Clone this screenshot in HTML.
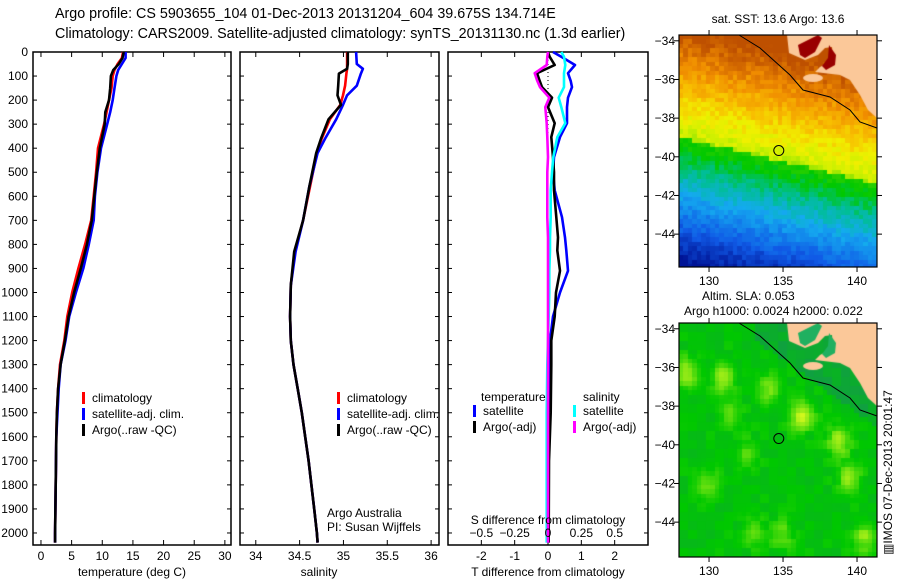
<!DOCTYPE html>
<html><head><meta charset="utf-8"><style>
body{margin:0;background:#fff;width:900px;height:580px;overflow:hidden;position:relative;font-family:"Liberation Sans",sans-serif}
svg{position:absolute;left:0;top:0}
canvas{position:absolute}
text{font-family:"Liberation Sans",sans-serif;font-size:12px;fill:#000}
text.title{font-size:14.3px}
</style></head><body>
<canvas id="sst" width="198" height="232" style="left:679px;top:35px"></canvas>
<canvas id="sla" width="198" height="234" style="left:679px;top:323px"></canvas>
<svg id="s" width="900" height="580"></svg>
<script>
// ---- data ----
const depthT=[0,25,50,75,100,150,200,250,300,400,500,600,700,800,900,1000,1100,1200,1300,1400,1500,1600,1800,2000,2040];
const tempClim=[13.4,13.2,12.5,12.0,11.7,11.5,11.1,10.7,10.3,9.3,9.0,8.6,8.2,7.2,6.1,5.1,4.3,3.8,3.1,2.8,2.6,2.5,2.4,2.3,2.3];
const tempSat=[13.8,13.8,13.2,12.6,12.3,12.0,11.7,11.3,10.8,9.8,9.2,8.8,8.6,7.8,6.9,5.7,4.6,4.0,3.2,2.9,2.7,2.5,2.4,2.3,2.3];
const tempArgo=[13.5,13.3,12.7,11.8,11.4,11.3,11.1,10.5,10.4,9.6,9.1,8.7,8.3,7.5,6.5,5.4,4.5,3.9,3.2,2.8,2.6,2.5,2.4,2.3,2.3];
const depthS=[0,50,70,90,140,180,220,280,360,420,560,700,830,970,1100,1200,1300,1400,1500,1600,1700,1800,1900,2000,2040];
const salClim=[35.042,35.042,35.042,35.034,35.019,34.995,34.964,34.846,34.752,34.697,34.619,34.540,34.446,34.399,34.391,34.399,34.430,34.478,34.525,34.564,34.603,34.634,34.666,34.697,34.705];
const salSat=[35.144,35.152,35.222,35.199,35.152,35.042,34.995,34.917,34.791,34.705,34.611,34.540,34.454,34.399,34.391,34.399,34.430,34.478,34.525,34.564,34.603,34.634,34.666,34.697,34.705];
const salArgo=[35.050,35.050,35.042,34.948,34.940,34.932,34.972,34.830,34.744,34.689,34.611,34.540,34.438,34.399,34.391,34.399,34.430,34.478,34.525,34.564,34.603,34.634,34.666,34.697,34.705];
const depthD=[0,20,54,88,120,146,190,229,296,354,437,500,575,687,771,825,910,1000,1100,1200,1300,1500,1700,2000,2040];
const dTSat=[0.15,0.4,0.81,0.6,0.68,0.72,0.6,0.57,0.57,0.36,0.18,0.15,0.2,0.42,0.51,0.55,0.6,0.36,0.15,0.06,0.03,0.02,0.01,0,0];
const dTArgo=[0,0.05,0.2,-0.33,-0.25,-0.18,0.12,0,0.2,0.1,0.15,0.18,0.18,0.25,0.3,0.28,0.36,0.24,0.2,0.1,0.1,0.08,0.03,0.02,0.02];
const dSSat=[0.1,0.12,0.13,0.12,0.12,0.12,0.08,0.1,0.13,0.07,0.04,0.03,0.02,0.02,0.015,0.015,0.01,0.01,0.005,0,-0.005,-0.01,-0.01,-0.01,-0.01];
const dSArgo=[0,-0.005,-0.01,-0.1,-0.08,-0.06,0.01,-0.02,-0.01,-0.005,0,-0.005,-0.005,-0.005,0,0,0,0,0,0,0,0,0,0,0];
const depthTicks=[0,100,200,300,400,500,600,700,800,900,1000,1100,1200,1300,1400,1500,1600,1700,1800,1900,2000];
const tempTicks=[0,5,10,15,20,25,30];
const salTicks=[34,34.5,35,35.5,36];
const dTTicks=[-2,-1,0,1,2];
const dSTicks=["-0.5","-0.25","0","0.25","0.5"];
const lonTicks=[130,135,140];
const latTicks=[-34,-36,-38,-40,-42,-44];

const NS="http://www.w3.org/2000/svg";
const svg=document.getElementById('s');
function el(tag,attrs,parent){const e=document.createElementNS(NS,tag);for(const k in attrs)e.setAttribute(k,attrs[k]);(parent||svg).appendChild(e);return e;}
function txt(x,y,s,anchor,extra){const e=el('text',Object.assign({x:x,y:y,'text-anchor':anchor||'start'},extra||{}));e.textContent=s;return e;}
const PT=52,PB=545;
const yD=d=>PT+(d/2050)*(PB-PT);
function lin(d0,d1,r0,r1){return v=>r0+(v-d0)/(d1-d0)*(r1-r0);}
const xT=lin(-1.3,31.0,33,231);
const xS=lin(33.82,36.09,240,439);
const xDT=lin(-3,3,448,648);
const xDS=lin(-0.75,0.75,448,648);

// titles
let t=txt(55,18,"Argo profile: CS 5903655_104 01-Dec-2013 20131204_604 39.675S 134.714E","start",{'class':'title'});

t=txt(55,38,"Climatology: CARS2009. Satellite-adjusted climatology: synTS_20131130.nc (1.3d earlier)","start",{'class':'title'});


function frame(x0,x1,name){
  const r=el('rect',{x:x0,y:PT,width:x1-x0,height:PB-PT,fill:'none',stroke:'#000','stroke-width':1.5});
  
  depthTicks.forEach(d=>{el('line',{x1:x0,x2:x0+4,y1:yD(d),y2:yD(d),stroke:'#000'});el('line',{x1:x1,x2:x1-4,y1:yD(d),y2:yD(d),stroke:'#000'});});
}
function line(xs,ds,fx,color,name){
  const pts=xs.map((v,i)=>fx(v).toFixed(1)+","+yD(ds[i]).toFixed(1)).join(" ");
  const p=el('polyline',{points:pts,fill:'none',stroke:color,'stroke-width':2.6,'stroke-linejoin':'round'});
  
}
function xticks(ticks,fx){
  ticks.forEach(v=>{const x=fx(v);
    el('line',{x1:x,x2:x,y1:PT,y2:PT+5,stroke:'#000'});el('line',{x1:x,x2:x,y1:PB,y2:PB-5,stroke:'#000'});
    const l=txt(x,560,String(v),'middle');});
}
depthTicks.forEach(d=>{const l=txt(28,yD(d)+4,String(d),'end');});

// panel 1
frame(33,231,'temperature-panel');
xticks(tempTicks,xT);
line(tempClim,depthT,xT,'#ff0000','temp-climatology-line');
line(tempSat,depthT,xT,'#0000ff','temp-satellite-line');
line(tempArgo,depthT,xT,'#000000','temp-argo-line');
t=txt(132,576,"temperature (deg C)",'middle');

// panel 2
frame(240,439,'salinity-panel');
xticks(salTicks,xS);
line(salClim,depthS,xS,'#ff0000','sal-climatology-line');
line(salSat,depthS,xS,'#0000ff','sal-satellite-line');
line(salArgo,depthS,xS,'#000000','sal-argo-line');
t=txt(319,576,"salinity",'middle');

function legend(x,y,items,name){
  const g=el('g',{});
  items.forEach((it,i)=>{el('rect',{x:x,y:y+i*16-10,width:3,height:12,fill:it[1]},g);const l=el('text',{x:x+10,y:y+i*16},g);l.textContent=it[0];});
}
legend(82,402,[["climatology","#ff0000"],["satellite-adj. clim.","#0000ff"],["Argo(..raw -QC)","#000000"]],'temp-legend');
legend(337,402,[["climatology","#ff0000"],["satellite-adj. clim.","#0000ff"],["Argo(..raw -QC)","#000000"]],'sal-legend');
t=txt(327,517,"Argo Australia");
t=txt(327,531,"PI: Susan Wijffels");

// panel 3
frame(448,648,'difference-panel');
xticks(dTTicks,xDT);
el('line',{x1:xDT(0),x2:xDT(0),y1:PT,y2:PB,stroke:'#000','stroke-dasharray':'1,3'});
line(dTSat,depthD,xDT,'#0000ff','dT-satellite-line');
line(dTArgo,depthD,xDT,'#000000','dT-argo-line');
line(dSSat,depthD,xDS,'#00ffff','dS-satellite-line');
line(dSArgo,depthD,xDS,'#ff00ff','dS-argo-line');
dSTicks.forEach(s=>{const l=txt(xDS(parseFloat(s)),537,s.replace('-','\u2212'),'middle');});
t=txt(548,524,"S difference from climatology",'middle');
t=txt(548,576,"T difference from climatology",'middle');
t=txt(481,401,"temperature");
t=txt(583,401,"salinity");
legend(473,415,[["satellite","#0000ff"],["Argo(-adj)","#000000"]],'dT-legend');
legend(573,415,[["satellite","#00ffff"],["Argo(-adj)","#ff00ff"]],'dS-legend');

// ---- maps ----
const MX0=679,MX1=877;
const xLon=lin(127.97,141.35,0,198);
function latY(lat){return (-33.7-lat)/12.0*232;}
function mapAxes(top,h,name){
  const r=el('rect',{x:MX0,y:top,width:MX1-MX0,height:h,fill:'none',stroke:'#000','stroke-width':1.2});
  
  lonTicks.forEach(v=>{const x=MX0+xLon(v);el('line',{x1:x,x2:x,y1:top,y2:top-5,stroke:'#000'});el('line',{x1:x,x2:x,y1:top+h,y2:top+h+5,stroke:'#000'});
    const l=txt(x,top+h+18,String(v),'middle');});
  latTicks.forEach(v=>{const y=top+latY(v);el('line',{x1:MX0,x2:MX0-5,y1:y,y2:y,stroke:'#000'});el('line',{x1:MX1,x2:MX1+5,y1:y,y2:y,stroke:'#000'});
    const l=txt(675,y+4,'\u2212'+String(-v),'end');});
  el('polyline',{points:[[739,0],[760,13],[790,40],[803,55],[830,62],[850,75],[860,87],[877,93]].map(p=>p[0]+','+(p[1]+top)).join(' '),fill:'none',stroke:'#000','stroke-width':1});
  const c=el('circle',{cx:MX0+xLon(134.714),cy:top+latY(-39.675),r:5,fill:'none',stroke:'#000','stroke-width':1});
  
}
function hash(i,j,s){let h=(i*374761393+j*668265263+s*982451653)|0;h=(h^(h>>>13))*1274126177|0;return ((h^(h>>>16))>>>0)/4294967296;}
function lerpC(stops,v){v=Math.max(0,Math.min(1,v));for(let i=1;i<stops.length;i++){if(v<=stops[i][0]){const a=stops[i-1],b=stops[i],f=(v-a[0])/(b[0]-a[0]);return 'rgb('+[1,2,3].map(k=>Math.round(a[k]+(b[k]-a[k])*f)).join(',')+')';}}const l=stops[stops.length-1];return 'rgb('+l[1]+','+l[2]+','+l[3]+')';}
const sstStops=[[0,0,20,150],[0.15,16,90,230],[0.3,20,170,240],[0.4,0,190,150],[0.5,0,200,0],[0.6,60,210,0],[0.68,200,240,0],[0.75,240,240,0],[0.82,248,190,0],[0.9,240,140,0],[1,190,80,0]];
const slaStops=[[0,20,150,80],[0.4,0,200,0],[0.7,130,230,20],[1,220,250,30]];
function landPaths(ctx){
  ctx.fillStyle='#fbc899';
  ctx.beginPath();[[108,0],[110,18],[126,25],[139,20],[146,13],[153,12],[154,25],[141,32],[136,37],[161,40],[171,45],[181,60],[189,75],[198,83],[198,0]].forEach((p,i)=>i?ctx.lineTo(p[0],p[1]):ctx.moveTo(p[0],p[1]));ctx.fill();
}
function drawMap(id,fn,stops,gulf,h){
  const ctx=document.getElementById(id).getContext('2d');const cs=4.5;
  for(let i=0;i*cs<198;i++)for(let j=0;j*cs<h;j++){
    const lon=127.97+(i+0.5)*cs/198*13.38, lat=-33.7-((j+0.5)*cs)/232*12;
    ctx.fillStyle=lerpC(stops,fn(lon,lat,i,j));ctx.fillRect(Math.floor(i*cs),Math.floor(j*cs),Math.ceil(cs)+1,Math.ceil(cs)+1);}
  landPaths(ctx);
  ctx.fillStyle=gulf;
  ctx.beginPath();[[119,10],[129,5],[139,0],[143,3],[136,17],[126,23],[121,20]].forEach((p,i)=>i?ctx.lineTo(p[0],p[1]):ctx.moveTo(p[0],p[1]));ctx.fill();
  ctx.beginPath();[[150,10],[157,20],[156,30],[147,35],[143,31],[149,23]].forEach((p,i)=>i?ctx.lineTo(p[0],p[1]):ctx.moveTo(p[0],p[1]));ctx.fill();
  ctx.fillStyle='#fbc899';ctx.beginPath();ctx.ellipse(134,43,10,4,0,0,Math.PI*2);ctx.fill();
}
drawMap('sst',(lon,lat,i,j)=>{const latF=-39-(lon-128)*0.18;let v=lat<latF?0.55-(latF-lat)/6.5*0.55:0.68+(lat-latF)/5.5*0.32;return v+(hash(i,j,1)-0.5)*0.07;},sstStops,'#990000',232);
const blobs=[[136.3,-38.5,1.0],[138.8,-39.8,0.8],[139.5,-41.7,0.7],[131,-36.5,0.8],[128.5,-36.3,0.8],[134,-37.2,0.6],[140.5,-44.8,0.7],[133,-44.5,0.5],[130,-42,0.5],[135,-44.6,0.5],[131.5,-38.5,0.4],[132.5,-40.5,0.4]];
drawMap('sla',(lon,lat,i,j)=>{let v=0.35;blobs.forEach(b=>{const d=((lon-b[0])**2+(lat-b[1])**2);v+=b[2]*0.55*Math.exp(-d/0.6);});if(lat>-34.5-(lon-133)*0.55&&lon>133)v=0.15;return v+(hash(i>>1,j>>1,2)-0.5)*0.15;},slaStops,'#20b060',234);
mapAxes(35,232,'sst-map-axes');
mapAxes(323,234,'sla-map-axes');
t=txt(778,23,"sat. SST: 13.6 Argo: 13.6",'middle');
t=txt(702,300,"Altim. SLA: 0.053");
t=txt(684,315,"Argo h1000: 0.0024 h2000: 0.022");
t=txt(0,0,"\u25A5IMOS 07-Dec-2013 20:01:47",'start',{transform:'translate(892,555) rotate(-90)'});
</script>
</body></html>
